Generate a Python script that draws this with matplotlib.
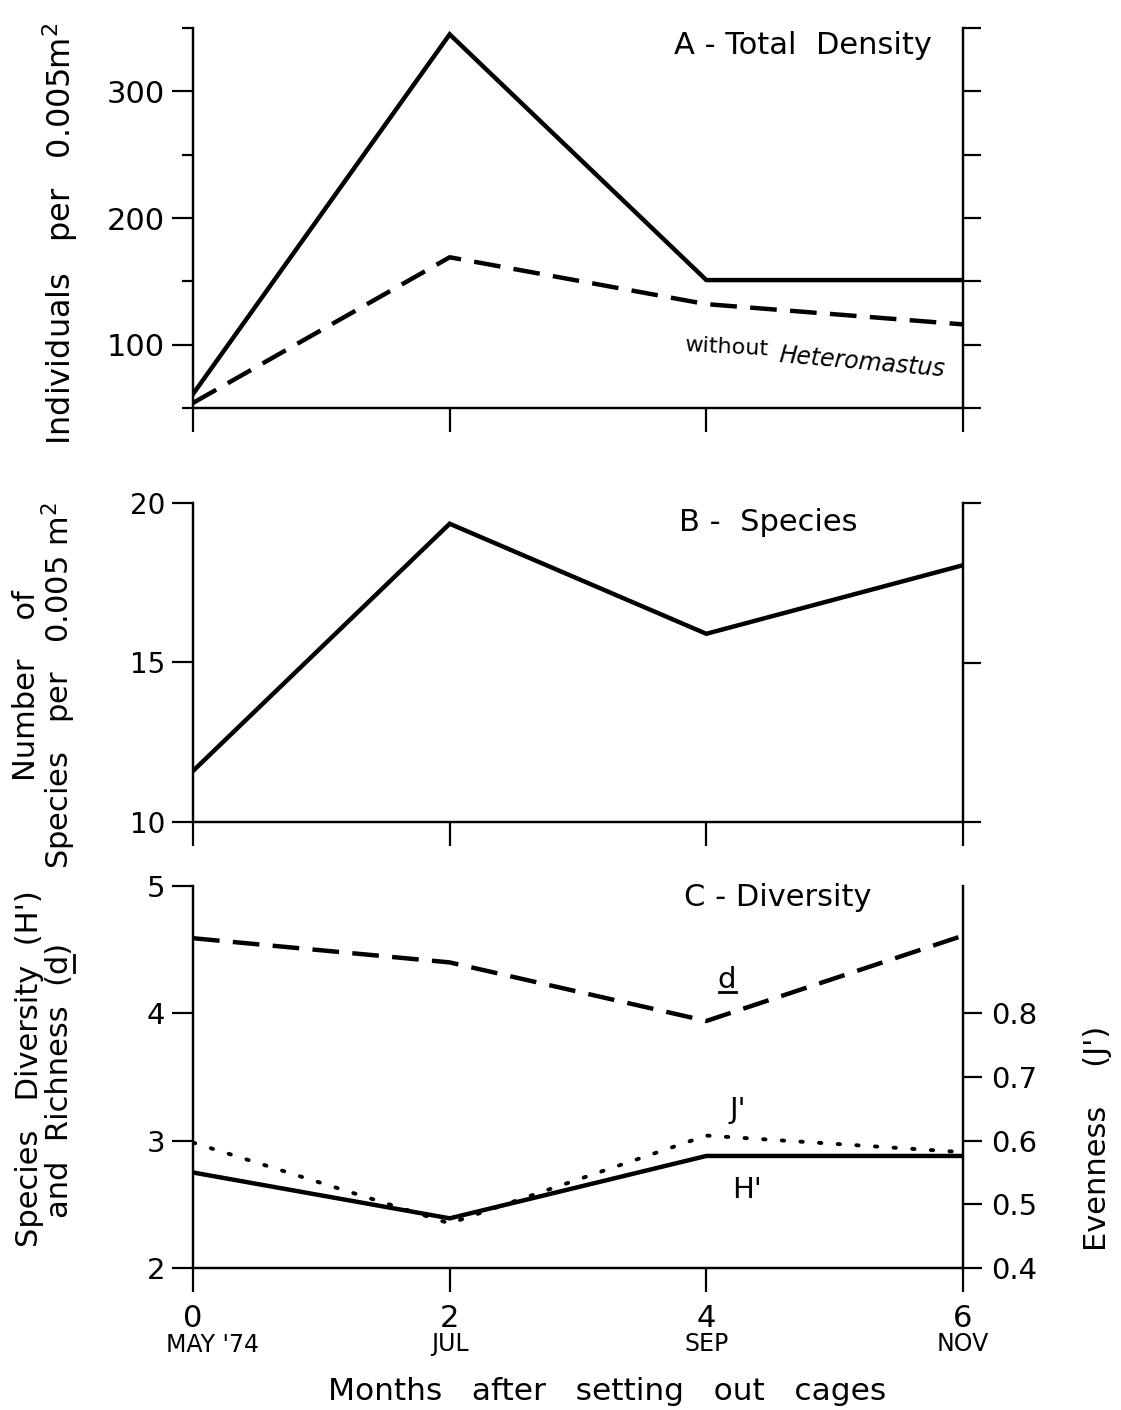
import numpy as np
import matplotlib
matplotlib.use('Agg')
import matplotlib.pyplot as plt
from matplotlib.lines import Line2D

# ---------------------------------------------------------
# data
# ---------------------------------------------------------
months = [0, 2, 4, 6]
month_names = ["MAY '74", "JUL", "SEP", "NOV"]

# A - total density (individuals per 0.005 m2)
total_density = [61, 345, 151, 151]
without_hetero = [54, 169, 132, 116]

# B - number of species per 0.005 m2
species = [11.6, 19.35, 15.9, 18.05]

# C - diversity
richness_d = [4.59, 4.40, 3.94, 4.61]
shannon_h = [2.75, 2.39, 2.88, 2.88]
evenness_j = [0.597, 0.470, 0.608, 0.582]

plt.rcParams['font.family'] = ['DejaVu Sans']

W, H = 1121, 1410
fig = plt.figure(figsize=(W / 100, H / 100), dpi=100)


def fx(px):
    return px / W


def fy(py):
    return 1 - py / H


LW_AX = 1.6
DASH = (0, (6, 3))
DOT = (0, (0.6, 4.2))


def base_style(ax, show_xlabels=False):
    ax.spines['top'].set_visible(False)
    for s in ['left', 'right', 'bottom']:
        ax.spines[s].set_linewidth(LW_AX)
    ax.set_xlim(0, 6)
    ax.set_xticks(months)
    ax.tick_params(axis='x', direction='out', length=17, width=LW_AX, pad=9,
                   labelsize=20, labelbottom=show_xlabels)
    ax.tick_params(axis='y', which='major', direction='out', length=15,
                   width=LW_AX, pad=5, labelsize=20)
    ax.tick_params(axis='y', which='minor', direction='out', length=8,
                   width=LW_AX)


def right_twin(ax, ticks, labels=False):
    tw = ax.twinx()
    tw.set_ylim(ax.get_ylim())
    tw.spines['top'].set_visible(False)
    for s in ['left', 'right', 'bottom']:
        tw.spines[s].set_linewidth(LW_AX)
    tw.set_yticks(ticks)
    tw.tick_params(axis='y', direction='out', length=13, width=LW_AX,
                   labelright=labels, pad=5, labelsize=20)
    return tw


# ---------------------------------------------------------
# A - Total density
# ---------------------------------------------------------
axA = fig.add_axes([fx(193), fy(408), fx(963) - fx(193), fy(28) - fy(408)])
base_style(axA)
axA.plot(months, total_density, color='k', lw=3.2, solid_joinstyle='miter')
axA.plot(months, without_hetero, color='k', lw=3.2, linestyle=DASH)
axA.set_ylim(50, 350)
axA.set_yticks([100, 200, 300])
axA.set_yticks([50, 150, 250, 350], minor=True)
axA.tick_params(axis='y', labelsize=22)
right_twin(axA, [50, 100, 150, 200, 250, 300, 350])

fig.text(fx(803), fy(46), "A - Total  Density", fontsize=22, ha='center', va='center')
fig.text(fx(726), fy(347), "without", fontsize=16, ha='center', va='center', rotation=-3)
fig.text(fx(862), fy(362), "Heteromastus", fontsize=17, style='italic',
         ha='center', va='center', rotation=-5)
fig.text(fx(60), fy(234), "Individuals   per   0.005m$^2$", fontsize=23,
         rotation=90, ha='center', va='center')

# ---------------------------------------------------------
# B - Species
# ---------------------------------------------------------
axB = fig.add_axes([fx(193), fy(822), fx(963) - fx(193), fy(503) - fy(822)])
base_style(axB)
axB.plot(months, species, color='k', lw=3.2, solid_joinstyle='miter')
axB.set_ylim(10, 20)
axB.set_yticks([10, 15, 20])
right_twin(axB, [10, 15, 20])

fig.text(fx(768), fy(523), "B -  Species", fontsize=22, ha='center', va='center')
fig.text(fx(45), fy(686), "Number    of\nSpecies   per   0.005 m$^2$", fontsize=22,
         rotation=90, ha='center', va='center', multialignment='center',
         linespacing=0.95)

# ---------------------------------------------------------
# C - Diversity
# ---------------------------------------------------------
axC = fig.add_axes([fx(193), fy(1268), fx(963) - fx(193), fy(886) - fy(1268)])
base_style(axC, show_xlabels=True)
axC.plot(months, richness_d, color='k', lw=3.2, linestyle=DASH)
axC.plot(months, shannon_h, color='k', lw=3.2, solid_joinstyle='miter')
axC.set_ylim(2, 5)
axC.set_yticks([2, 3, 4, 5])
axC.tick_params(axis='x', labelsize=22)
axC.tick_params(axis='y', labelsize=21)

twC = right_twin(axC, [0.4, 0.5, 0.6, 0.7, 0.8], labels=True)
twC.set_ylim(0.4, 1.0)
twC.set_yticklabels(['0.4', '0.5', '0.6', '0.7', '0.8'])
twC.tick_params(axis='y', length=14, pad=6, labelsize=21)
twC.plot(months, evenness_j, color='k', lw=2.8, linestyle=DOT,
         dash_capstyle='round')

# month names under the tick numbers ("MAY '74" starts under the 0)
for m, name in zip(months, month_names):
    if m == 0:
        fig.text(fx(166), fy(1345), name, fontsize=17, ha='left', va='center')
    else:
        axC.text(m, -0.2, name, transform=axC.get_xaxis_transform(),
                 fontsize=17, ha='center', va='center')

# curve labels, d underlined
fig.text(fx(727), fy(980), "d", fontsize=21, ha='center', va='center')
fig.add_artist(Line2D([fx(719), fx(736)], [fy(992), fy(992)], color='k', lw=2))
fig.text(fx(738), fy(1110), "J'", fontsize=21, ha='center', va='center')
fig.text(fx(747), fy(1190), "H'", fontsize=21, ha='center', va='center')
fig.text(fx(778), fy(898), "C - Diversity", fontsize=22, ha='center', va='center')

fig.text(fx(30), fy(1069), "Species   Diversity  (H')", fontsize=22,
         rotation=90, ha='center', va='center')
fig.text(fx(60), fy(1080), "and  Richness  (d)", fontsize=22,
         rotation=90, ha='center', va='center')
fig.add_artist(Line2D([fx(74), fx(74)], [fy(955), fy(972)], color='k', lw=2))
fig.text(fx(1097), fy(1138), "Evenness    (J')", fontsize=22,
         rotation=90, ha='center', va='center')

fig.text(fx(607), fy(1392), "Months   after   setting   out   cages", fontsize=22.5,
         ha='center', va='center')

fig.savefig('out.png', dpi=100, facecolor='white')
